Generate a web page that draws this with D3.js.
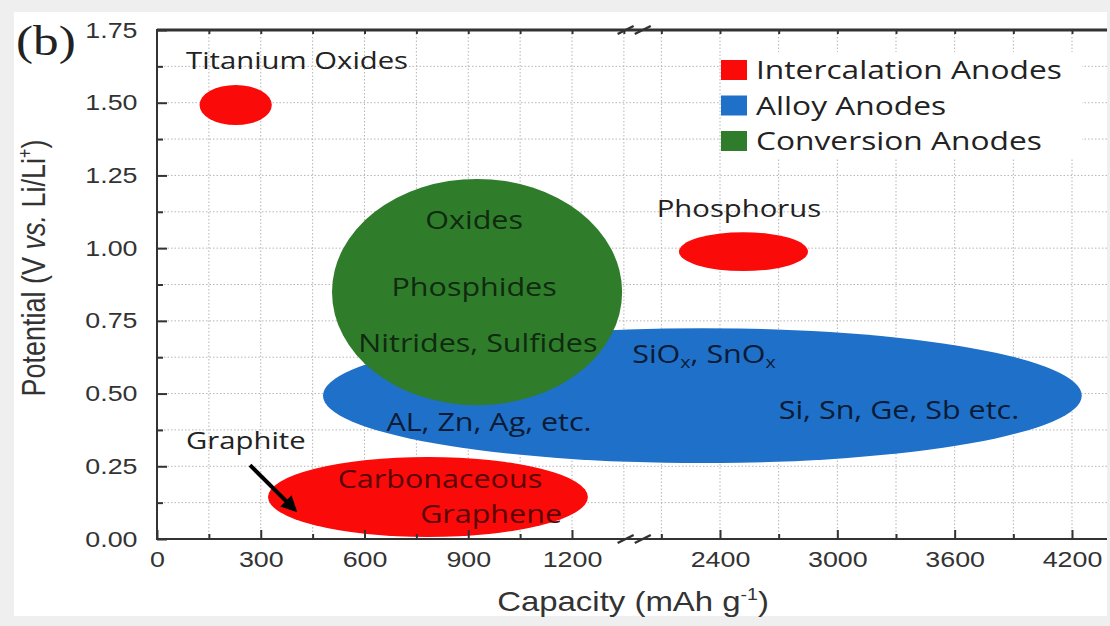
<!DOCTYPE html>
<html>
<head>
<meta charset="utf-8">
<script src="https://cdn.jsdelivr.net/npm/d3@7"></script>
<style>
  body { margin: 0; background: #efefef; }
  svg { display: block; }
  .axis text { font-family: "Liberation Sans", Arial, sans-serif; font-size: 22px; fill: #333; }
  .axis line { stroke: #333; stroke-width: 2; }
  .grid line { stroke: #b5b5b5; stroke-width: 1; stroke-dasharray: 1.5 2; }
  .note { font-family: "Open Sans", sans-serif; }
</style>
</head>
<body>
<svg id="chart" width="1110" height="626"></svg>
<script>
// tick values
const xMajorLeft = [0, 300, 600, 900, 1200];
const xMinorLeft = [150, 450, 750, 1050];
const xGridLeft = [150, 300, 450, 600, 750, 900, 1050, 1200, 1350];
const xMajorRight = [2400, 3000, 3600, 4200];
const xMinorRight = [2100, 2700, 3300, 3900];
const xGridRight = [2100, 2400, 2700, 3000, 3300, 3600, 3900, 4200];
const yMajor = [0, 0.25, 0.5, 0.75, 1.0, 1.25, 1.5, 1.75];
const yMinor = [0.125, 0.375, 0.625, 0.875, 1.125, 1.375, 1.625];
const yGrid = [0.125, 0.25, 0.375, 0.5, 0.625, 0.75, 0.875, 1.0, 1.125, 1.25, 1.375, 1.5, 1.625];

// regions (capacity mAh/g, potential V)
const regionNames = ['Alloy', 'Conversion', 'Titanium Oxides', 'Phosphorus', 'Carbonaceous'];
const regionType = ['Alloy Anodes', 'Conversion Anodes', 'Intercalation Anodes', 'Intercalation Anodes', 'Intercalation Anodes'];
const regionXMin = [480, 506, 123, 2190, 321];
const regionXMax = [4250, 1345, 332, 2850, 1246];
const regionYMin = [0.261, 0.46, 1.423, 0.921, 0.007];
const regionYMax = [0.725, 1.238, 1.561, 1.055, 0.282];

// legend
const legendNames = ['Intercalation Anodes', 'Alloy Anodes', 'Conversion Anodes'];
const legendColors = ['#fb0a0a', '#1f70c8', '#2f7d2b'];

// labels
const labelText = ['Titanium Oxides', 'Phosphorus', 'Graphite', 'Oxides', 'Phosphides', 'Nitrides, Sulfides',
                   'AL, Zn, Ag, etc.', 'Si, Sn, Ge, Sb etc.', 'Carbonaceous', 'Graphene'];
const labelX = [405, 2497, 257, 917, 917, 928, 960, 3315, 818, 966];
const labelY = [1.647, 1.138, 0.340, 1.097, 0.866, 0.674, 0.402, 0.443, 0.206, 0.086];
const labelColor = ['#222', '#222', '#222', '#0f2a0f', '#0f2a0f', '#0f2a0f', '#0a1b36', '#0a1b36', '#5a0303', '#5a0303'];
const arrowFrom = [269, 0.254];
const arrowTo = [399, 0.10];

const SX = 1.22; // picture is stretched sideways
const svg = d3.select('#chart');
const color = d3.scaleOrdinal().domain(legendNames).range(legendColors);

const pLeft = 157, pRight = 1107, pTop = 30, pBottom = 539;
const xL = d3.scaleLinear().domain([0, 1200]).range([pLeft, 572]);
const xR = d3.scaleLinear().domain([2400, 4200]).range([720, 1072]);
const y = d3.scaleLinear().domain([0, 1.75]).range([pBottom, pTop]);
const xPos = v => v <= 1400 ? xL(v) : xR(v);
const breakL = xL(1355), breakR = xR(2005);

// panel
svg.append('rect').attr('x', 14).attr('y', 12).attr('width', 1093).attr('height', 604).attr('fill', '#fff');

// grid
const grid = svg.append('g').attr('class', 'grid');
grid.selectAll('.gy').data(yGrid).enter().append('line')
  .attr('x1', pLeft).attr('x2', pRight).attr('y1', d => y(d)).attr('y2', d => y(d));
grid.selectAll('.gx').data(xGridLeft.concat(xGridRight)).enter().append('line')
  .attr('x1', d => xPos(d)).attr('x2', d => xPos(d)).attr('y1', pTop).attr('y2', pBottom);

// regions
const regions = regionNames.map((n, i) => ({
  name: n, type: regionType[i],
  x0: xPos(regionXMin[i]), x1: xPos(regionXMax[i]),
  y0: y(regionYMin[i]), y1: y(regionYMax[i])
}));
svg.append('g').selectAll('ellipse').data(regions).enter().append('ellipse')
  .attr('cx', d => (d.x0 + d.x1) / 2).attr('cy', d => (d.y0 + d.y1) / 2)
  .attr('rx', d => (d.x1 - d.x0) / 2).attr('ry', d => (d.y0 - d.y1) / 2)
  .attr('fill', d => color(d.type));

// axes
const tickText = sel => sel.selectAll('text').attr('transform', `scale(${SX},1)`);
svg.append('g').attr('class', 'axis').attr('transform', `translate(0,${pBottom})`)
  .call(d3.axisBottom(xL).tickValues(xMajorLeft).tickSize(-9).tickPadding(12).tickFormat(d3.format('d')))
  .call(g => g.select('.domain').remove()).call(tickText);
svg.append('g').attr('class', 'axis').attr('transform', `translate(0,${pBottom})`)
  .call(d3.axisBottom(xR).tickValues(xMajorRight).tickSize(-9).tickPadding(12).tickFormat(d3.format('d')))
  .call(g => g.select('.domain').remove()).call(tickText);
svg.append('g').attr('class', 'axis').attr('transform', `translate(0,${pBottom})`)
  .call(d3.axisBottom(xL).tickValues(xMinorLeft).tickSize(-5).tickFormat(''))
  .call(g => g.select('.domain').remove());
svg.append('g').attr('class', 'axis').attr('transform', `translate(0,${pBottom})`)
  .call(d3.axisBottom(xR).tickValues(xMinorRight).tickSize(-5).tickFormat(''))
  .call(g => g.select('.domain').remove());
svg.append('g').attr('class', 'axis').attr('transform', `translate(${pLeft},0)`)
  .call(d3.axisLeft(y).tickValues(yMajor).tickSize(-10).tickPadding(16).tickFormat(d3.format('.2f')))
  .call(g => g.select('.domain').remove()).call(tickText);
svg.append('g').attr('class', 'axis').attr('transform', `translate(${pLeft},0)`)
  .call(d3.axisLeft(y).tickValues(yMinor).tickSize(-6).tickFormat(''))
  .call(g => g.select('.domain').remove());
svg.append('g').attr('class', 'axis').attr('transform', `translate(0,${pTop})`)
  .call(d3.axisTop(xL).tickValues(xGridLeft).tickSize(-4).tickFormat(''))
  .call(g => g.select('.domain').remove());
svg.append('g').attr('class', 'axis').attr('transform', `translate(0,${pTop})`)
  .call(d3.axisTop(xR).tickValues(xGridRight).tickSize(-4).tickFormat(''))
  .call(g => g.select('.domain').remove());

// frame lines
const frame = svg.append('g').attr('stroke', '#333').attr('fill', 'none');
frame.append('line').attr('x1', pLeft).attr('x2', pRight).attr('y1', pTop).attr('y2', pTop).attr('stroke-width', 3);
frame.append('line').attr('x1', pLeft).attr('x2', pRight).attr('y1', pBottom).attr('y2', pBottom).attr('stroke-width', 2);
frame.append('line').attr('x1', pLeft).attr('x2', pLeft).attr('y1', pTop - 1).attr('y2', pBottom + 1).attr('stroke-width', 2);
// break marks
[pTop, pBottom].forEach(yy => {
  [breakL, breakR].forEach(bx => {
    frame.append('line').attr('x1', bx - 8).attr('y1', yy + 4).attr('x2', bx + 8).attr('y2', yy - 4)
      .attr('stroke-width', 2.5);
  });
});

// legend
const legend = svg.append('g');
legend.append('rect').attr('x', 722).attr('y', 52).attr('width', 360).attr('height', 106).attr('fill', '#fff');
legendNames.forEach((n, i) => {
  const cy = 70 + i * 35.5;
  legend.append('rect').attr('x', 721).attr('y', cy - 10).attr('width', 26).attr('height', 20).attr('fill', color(n));
  legend.append('text').attr('class', 'note')
    .attr('transform', `translate(756,${cy + 9}) scale(${SX},1)`)
    .attr('font-size', 26).attr('fill', '#222').text(n);
});

// labels
labelText.forEach((t, i) => {
  svg.append('text').attr('class', 'note')
    .attr('transform', `translate(${xPos(labelX[i])},${y(labelY[i]) + 9}) scale(${SX},1)`)
    .attr('text-anchor', 'middle').attr('font-size', i < 3 ? 24 : 25).attr('fill', labelColor[i])
    .text(t);
});
const sio = svg.append('text').attr('class', 'note')
  .attr('transform', `translate(${xPos(2318)},${y(0.636) + 9}) scale(${SX},1)`)
  .attr('text-anchor', 'middle').attr('font-size', 25).attr('fill', '#0a1b36');
sio.append('tspan').text('SiO');
sio.append('tspan').attr('font-size', 16).attr('dy', 5).text('x');
sio.append('tspan').attr('dy', -5).text(', SnO');
sio.append('tspan').attr('font-size', 16).attr('dy', 5).text('x');

// graphite arrow
svg.append('defs').append('marker').attr('id', 'head')
  .attr('viewBox', '0 0 10 10').attr('refX', 8).attr('refY', 5)
  .attr('markerWidth', 4).attr('markerHeight', 4).attr('orient', 'auto')
  .append('path').attr('d', 'M0,0 L10,5 L0,10 Z').attr('fill', '#000');
svg.append('line')
  .attr('x1', xPos(arrowFrom[0])).attr('y1', y(arrowFrom[1]))
  .attr('x2', xPos(arrowTo[0])).attr('y2', y(arrowTo[1]))
  .attr('stroke', '#000').attr('stroke-width', 4).attr('marker-end', 'url(#head)');

// axis titles
const xt = svg.append('text').attr('transform', `translate(633,611) scale(${SX},1)`)
  .attr('text-anchor', 'middle').attr('font-family', '"Liberation Sans", Arial, sans-serif')
  .attr('font-size', 27).attr('fill', '#333');
xt.append('tspan').text('Capacity (mAh g');
xt.append('tspan').attr('font-size', 16).attr('dy', -11).text('-1');
xt.append('tspan').attr('dy', 11).text(')');

const yt = svg.append('text').attr('transform', `translate(45,268) scale(${SX},1) rotate(-90)`)
  .attr('text-anchor', 'middle').attr('font-family', '"Liberation Sans", Arial, sans-serif')
  .attr('font-size', 27).attr('fill', '#333');
yt.append('tspan').text('Potential (V ');
yt.append('tspan').attr('font-style', 'italic').text('vs.');
yt.append('tspan').text(' Li/Li');
yt.append('tspan').attr('font-size', 16).attr('dy', -11).text('+');
yt.append('tspan').attr('dy', 11).text(')');

svg.append('text').attr('transform', `translate(16,55) scale(${SX},1)`)
  .attr('font-family', '"Liberation Serif", "Times New Roman", serif')
  .attr('font-size', 42).attr('fill', '#222').text('(b)');
</script>
</body>
</html>
